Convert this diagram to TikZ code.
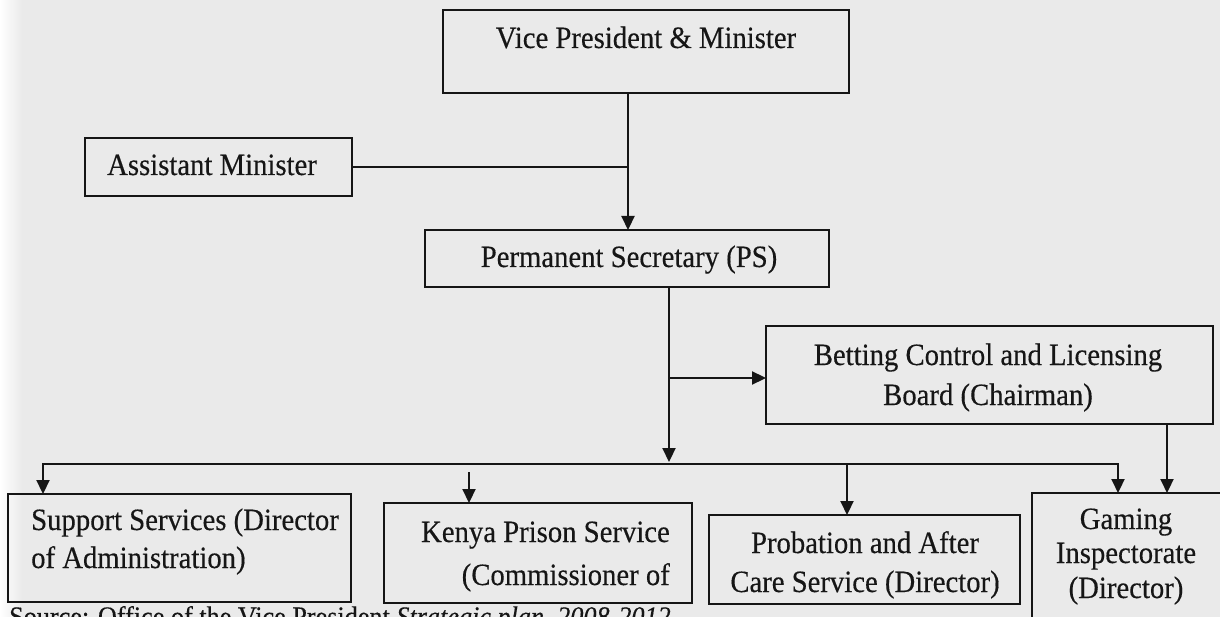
\documentclass[tikz,border=0pt]{standalone}
\usepackage{fontspec}
\setmainfont{Liberation Serif}[FakeBold=0.35,ItalicFeatures={FakeBold=0.35}]
\usetikzlibrary{arrows.meta}
\definecolor{bg}{RGB}{234,234,234}
\definecolor{ink}{RGB}{22,22,22}
\newcommand\tallt[1]{\scalebox{1}[1.08]{#1}}
\begin{document}
\begin{tikzpicture}[x=1pt,y=-1pt,
  orgbox/.style={draw=ink, line width=2.4pt, inner sep=0pt, outer sep=0pt, anchor=north west},
  lbl/.style={text=ink, inner sep=0pt, font=\fontsize{28.7}{34}\selectfont, anchor=base},
  srcl/.style={text=ink, inner sep=0pt, font=\fontsize{26.2}{30}\selectfont, anchor=base west},
  conn/.style={draw=ink, line width=2.2pt},
  arr/.style={conn, -{Triangle[length=14pt,width=13pt]}}]
\useasboundingbox (0,0) rectangle (1220,617);
\clip (0,0) rectangle (1220,617);
\fill[bg] (0,0) rectangle (1220,617);
\shade[left color=white, right color=bg] (0,0) rectangle (22,617);

% boxes
\node[orgbox, minimum width=406pt, minimum height=83pt] (vp) at (443,10) {};
\node[orgbox, minimum width=267pt, minimum height=58pt] (am) at (85,138) {};
\node[orgbox, minimum width=404pt, minimum height=57pt] (ps) at (425,230) {};
\node[orgbox, minimum width=447pt, minimum height=98pt] (bet) at (766,326) {};
\node[orgbox, minimum width=343pt, minimum height=108pt] (sup) at (8,494) {};
\node[orgbox, minimum width=308pt, minimum height=100pt] (ken) at (384,503) {};
\node[orgbox, minimum width=311pt, minimum height=89pt] (prob) at (709,515) {};
\node[orgbox, minimum width=200pt, minimum height=150pt] (gam) at (1032,493) {};

% texts
\node[lbl] (vpt) at (646,48) {\tallt{Vice President \& Minister}};
\node[lbl, anchor=base west] (amt) at (107,175) {\tallt{Assistant Minister}};
\node[lbl] (pst) at (629,267) {\tallt{Permanent Secretary (PS)}};
\node[lbl] (bt1) at (988,365) {\tallt{Betting Control and Licensing}};
\node[lbl] (bt2) at (988,405) {\tallt{Board (Chairman)}};
\node[lbl, anchor=base west] (st1) at (31,530) {\tallt{Support Services (Director}};
\node[lbl, anchor=base west] (st2) at (31,568) {\tallt{of Administration)}};
\node[lbl, anchor=base east] (kt1) at (670,542) {\tallt{Kenya Prison Service}};
\node[lbl, anchor=base east] (kt2) at (670,585) {\tallt{(Commissioner of}};
\node[lbl] (pt1) at (865,553) {\tallt{Probation and After}};
\node[lbl] (pt2) at (865,592) {\tallt{Care Service (Director)}};
\node[lbl] (gt1) at (1126,529) {\tallt{Gaming}};
\node[lbl] (gt2) at (1126,563) {\tallt{Inspectorate}};
\node[lbl] (gt3) at (1126,598) {\tallt{(Director)}};
\node[srcl] (src) at (9,626) {\tallt{Source: Office of the Vice President \textit{Strategic plan, 2008-2012}}};

% junction coordinates
\coordinate (j1) at (628,165);
\coordinate (j2) at (669,378);
\coordinate (hbar) at (669,464);
\coordinate (hl) at (43,464);
\coordinate (hr) at (1118,464);
\coordinate (pb) at (847,464);
\coordinate (kt) at (469,472);
\coordinate (bd) at (1167,424);

% connectors
\draw[arr] (vp.south -| j1) -- (ps.north -| j1);
\draw[conn] (am.east) -- (am.east -| j1);
\draw[arr] (ps.south -| j2) -- ([yshift=2pt]hbar);
\draw[arr] (j2) -- (j2 -| bet.west);
\draw[conn, {Triangle[length=14pt,width=13pt]}-{Triangle[length=14pt,width=13pt]}] (hl |- sup.north) -- (hl) -- (hr) -- (hr |- gam.north);
\draw[arr] (pb) -- (pb |- prob.north);
\draw[arr] (kt) -- (kt |- ken.north);
\draw[arr] (bet.south -| bd) -- (gam.north -| bd);
\end{tikzpicture}
\end{document}
